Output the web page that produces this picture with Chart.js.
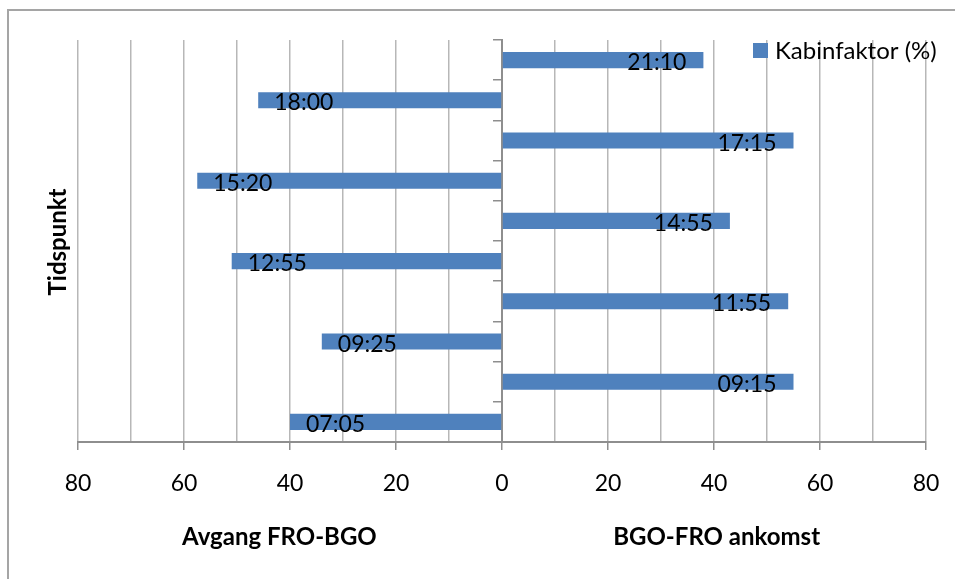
<!DOCTYPE html>
<html>
<head>
<meta charset="utf-8">
<script src="https://cdn.jsdelivr.net/npm/chart.js@4/dist/chart.umd.min.js"></script>
<style>
  html, body { margin: 0; padding: 0; background: #fff; }
  #wrap { width: 955px; height: 579px; position: relative; }
</style>
</head>
<body>
<div id="wrap"><canvas id="chart"></canvas></div>
<script>
// categories, top to bottom
const times = ["21:10", "18:00", "17:15", "15:20", "14:55", "12:55", "11:55", "09:25", "09:15", "07:05"];
// cabin factor (%) per departure
const kabinfaktor = [38, 46, 55, 57.5, 43, 51, 54, 34, 55, 40];
// which side: FRO-BGO goes left, BGO-FRO goes right
const retning = ["BGO-FRO", "FRO-BGO", "BGO-FRO", "FRO-BGO", "BGO-FRO", "FRO-BGO", "BGO-FRO", "FRO-BGO", "BGO-FRO", "FRO-BGO"];
const xMin = -80, xMax = 80, xStep = 10, labelStep = 20;

const seriesName = "Kabinfaktor (%)";
const leftTitle = "Avgang FRO-BGO";
const rightTitle = "BGO-FRO ankomst";
const yTitle = "Tidspunkt";

const barColor = "#4f81bd";
const gridColor = "#b7b7b7";
const axisColor = "#8e8e8e";
const FONT = "Lato";

const signed = kabinfaktor.map((v, i) => retning[i] === "FRO-BGO" ? -v : v);

Chart.defaults.font.family = FONT;
Chart.defaults.font.size = 23;
Chart.defaults.color = "#000";

// grey frame of the chart box (only top + left are visible in the picture)
const frame = {
  id: "frame",
  beforeDraw(chart) {
    const c = chart.ctx;
    c.save();
    c.strokeStyle = "#a5a5a5";
    c.lineWidth = 2;
    c.beginPath();
    c.moveTo(8, chart.height + 2);
    c.lineTo(8, 10);
    c.lineTo(chart.width + 2, 10);
    c.stroke();
    c.restore();
  }
};

// time labels inside the end of each bar
const barLabels = {
  id: "barLabels",
  afterDatasetsDraw(chart) {
    const c = chart.ctx;
    const meta = chart.getDatasetMeta(0);
    c.save();
    c.font = "23px " + FONT;
    c.fillStyle = "#000";
    c.textBaseline = "alphabetic";
    meta.data.forEach((bar, i) => {
      const neg = signed[i] < 0;
      c.textAlign = neg ? "left" : "right";
      c.fillText(times[i], neg ? bar.x + 16 : bar.x - 17, bar.y + 10);
    });
    c.restore();
  }
};

// axis titles and legend
const extras = {
  id: "extras",
  afterDraw(chart) {
    const c = chart.ctx;
    const xs = chart.scales.x;
    const area = chart.chartArea;
    c.save();
    c.fillStyle = "#000";
    c.font = "bold 24px " + FONT;
    c.textAlign = "center";
    c.textBaseline = "middle";
    c.fillText(leftTitle, xs.getPixelForValue(-42), 537);
    c.fillText(rightTitle, xs.getPixelForValue(40.5), 537);

    c.translate(58, (area.top + area.bottom) / 2 + 1);
    c.rotate(-Math.PI / 2);
    c.fillText(yTitle, 0, 0);
    c.restore();

    // legend
    c.save();
    c.fillStyle = barColor;
    c.fillRect(753, 43, 15, 15);
    c.fillStyle = "#000";
    c.font = "24px " + FONT;
    c.textAlign = "left";
    c.textBaseline = "alphabetic";
    c.fillText(seriesName, 775, 59);
    c.restore();
  }
};

new Chart(document.getElementById("chart"), {
  type: "bar",
  data: {
    labels: times,
    datasets: [{
      label: seriesName,
      data: signed,
      backgroundColor: barColor,
      borderWidth: 0,
      barPercentage: 0.4,
      categoryPercentage: 1
    }]
  },
  options: {
    indexAxis: "y",
    responsive: true,
    maintainAspectRatio: false,
    animation: false,
    layout: { padding: { left: 78, right: 29, top: 40, bottom: 0 } },
    plugins: {
      legend: { display: false },
      tooltip: { enabled: false }
    },
    scales: {
      x: {
        min: xMin,
        max: xMax,
        afterFit(scale) {
          scale.height = 137;
          scale.paddingLeft = 0;
          scale.paddingRight = 0;
        },
        ticks: {
          stepSize: xStep,
          autoSkip: false,
          maxRotation: 0,
          padding: 20,
          font: { size: 23 },
          callback: (v) => (v % labelStep === 0 ? String(Math.abs(v)) : "")
        },
        grid: {
          color: gridColor,
          lineWidth: 1.5,
          tickLength: 8,
          tickColor: (ctx) => (ctx.tick && ctx.tick.value % labelStep === 0 ? axisColor : "rgba(0,0,0,0)")
        },
        border: { color: axisColor, width: 2 }
      },
      y: {
        type: "category",
        position: { x: 0 },
        ticks: { display: false },
        grid: {
          drawOnChartArea: false,
          offset: true,
          tickLength: 8,
          tickColor: axisColor,
          lineWidth: 1.5
        },
        border: { color: axisColor, width: 2 }
      }
    }
  },
  plugins: [frame, barLabels, extras]
});
</script>
</body>
</html>
